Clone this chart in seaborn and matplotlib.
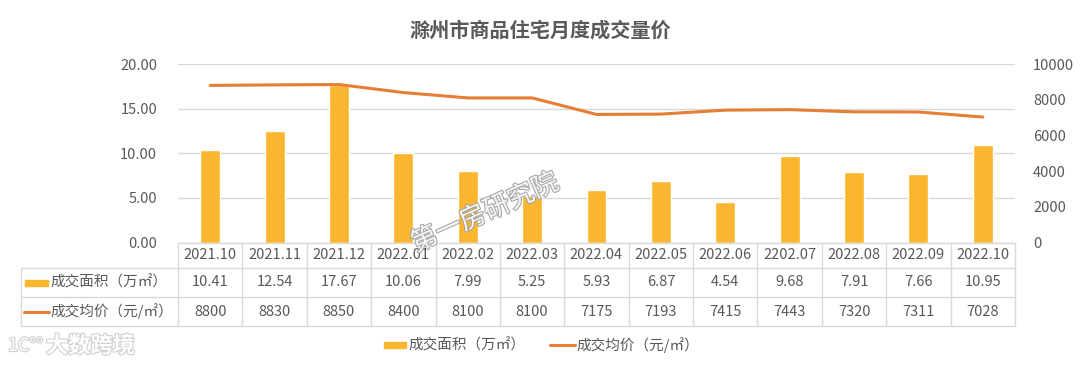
import numpy as np
import pandas as pd
import matplotlib
matplotlib.use("Agg")
import matplotlib.pyplot as plt
import matplotlib.patheffects as pe
from matplotlib.lines import Line2D
from matplotlib.patches import Rectangle
import seaborn as sns

# data
months = ["2021.10", "2021.11", "2021.12", "2022.01", "2022.02", "2022.03", "2022.04",
          "2022.05", "2022.06", "2202.07", "2022.08", "2022.09", "2022.10"]
area = [10.41, 12.54, 17.67, 10.06, 7.99, 5.25, 5.93, 6.87, 4.54, 9.68, 7.91, 7.66, 10.95]
price = [8800, 8830, 8850, 8400, 8100, 8100, 7175, 7193, 7415, 7443, 7320, 7311, 7028]
area_label = "成交面积（万㎡）"
price_label = "成交均价（元/㎡）"

df = pd.DataFrame({"month": months, "area": area, "price": price, "pos": np.arange(len(months))})

sns.set_style("white")
plt.rcParams["font.family"] = ["Noto Sans CJK SC", "DejaVu Sans"]

bar_c = "#FBB62F"
line_c = "#E67E35"
txt_c = "#595959"
grid_c = "#D9D9D9"

W, H = 1080, 366
fig = plt.figure(figsize=(W / 100, H / 100), dpi=100)
x0, x1, y0, y1 = 178, 1015, 242.5, 64
ax = fig.add_axes([x0 / W, 1 - y0 / H, (x1 - x0) / W, (y0 - y1) / H])

sns.barplot(data=df, x="month", y="area", color=bar_c, width=0.31, ax=ax, saturation=1)
ax.set_xlim(-0.5, len(months) - 0.5)
ax.set_ylim(0, 20)
ax.set_yticks([0, 5, 10, 15, 20])
ax.set_yticklabels([f"{v:.2f}" for v in [0, 5, 10, 15, 20]])
ax.yaxis.grid(True, color=grid_c, lw=1)
ax.set_axisbelow(True)
ax.set_xticks([])
ax.set_xlabel("")
ax.set_ylabel("")
ax.tick_params(axis="y", length=0, pad=15, labelsize=10.5, labelcolor=txt_c)
for s in ax.spines.values():
    s.set_visible(False)

ax2 = ax.twinx()
sns.lineplot(data=df, x="pos", y="price", color=line_c, lw=2.2, ax=ax2)
ax2.set_ylim(0, 10000)
ax2.set_yticks(range(0, 10001, 2000))
ax2.set_xlim(-0.5, len(months) - 0.5)
ax2.set_xlabel("")
ax2.set_ylabel("")
ax2.tick_params(axis="y", length=0, pad=13, labelsize=10.5, labelcolor=txt_c)
for s in ax2.spines.values():
    s.set_visible(False)

fig.text(0.5, 1 - 30 / H, "滁州市商品住宅月度成交量价", ha="center", va="center",
         fontsize=14.5, fontweight="bold", color=txt_c)

# data table below the plot
def fx(px):
    return px / W

def fy(py):
    return 1 - py / H

cw = (x1 - x0) / len(months)
rows = [242.5, 268, 297, 326]
tl = 20.5
lk = dict(color="#D9D9D9", lw=1, transform=fig.transFigure)
fig.add_artist(Line2D([fx(x0), fx(x1)], [fy(rows[0])] * 2, **lk))
for r in rows[1:]:
    fig.add_artist(Line2D([fx(tl), fx(x1)], [fy(r)] * 2, **lk))
for i in range(len(months) + 1):
    xx = x0 + i * cw
    fig.add_artist(Line2D([fx(xx)] * 2, [fy(rows[0]), fy(rows[3])], **lk))
fig.add_artist(Line2D([fx(tl)] * 2, [fy(rows[1]), fy(rows[3])], **lk))

for i, m in enumerate(months):
    cx = fx(x0 + (i + 0.5) * cw)
    fig.text(cx, fy((rows[0] + rows[1]) / 2), m, ha="center", va="center", fontsize=10.5, color=txt_c)
    fig.text(cx, fy((rows[1] + rows[2]) / 2), f"{area[i]:.2f}", ha="center", va="center", fontsize=10.5, color=txt_c)
    fig.text(cx, fy((rows[2] + rows[3]) / 2), f"{price[i]}", ha="center", va="center", fontsize=10.5, color=txt_c)

ym1 = (rows[1] + rows[2]) / 2
ym2 = (rows[2] + rows[3]) / 2
fig.add_artist(Rectangle((fx(25), fy(ym1 + 3)), fx(23), 6 / H, color=bar_c, transform=fig.transFigure))
fig.add_artist(Line2D([fx(24), fx(49)], [fy(ym2)] * 2, color=line_c, lw=2.2, transform=fig.transFigure))
fig.text(fx(50), fy(ym1), area_label, ha="left", va="center", fontsize=10.5, color=txt_c)
fig.text(fx(50), fy(ym2), price_label, ha="left", va="center", fontsize=10.5, color=txt_c)

# legend
yl = 345
fig.add_artist(Rectangle((fx(384), fy(yl + 3)), fx(22), 6 / H, color=bar_c, transform=fig.transFigure))
fig.text(fx(408), fy(yl), area_label, ha="left", va="center", fontsize=10.5, color=txt_c)
fig.add_artist(Line2D([fx(550), fx(575)], [fy(yl)] * 2, color=line_c, lw=2.2, transform=fig.transFigure))
fig.text(fx(576), fy(yl), price_label, ha="left", va="center", fontsize=10.5, color=txt_c)

# watermarks
fig.text(fx(485), fy(213), "第一房研究院", ha="center", va="center", fontsize=19, rotation=24,
         color="white", alpha=0.9,
         path_effects=[pe.withStroke(linewidth=1.6, foreground="#a0a0a0")])
fig.text(fx(8), fy(346), "1C°°", ha="left", va="center", fontsize=13,
         color="white", path_effects=[pe.withStroke(linewidth=1.6, foreground="#d0d0d0")])
fig.text(fx(46), fy(346), "大数跨境", ha="left", va="center", fontsize=16, fontweight="bold",
         color="white", path_effects=[pe.withStroke(linewidth=1.6, foreground="#d0d0d0")])

fig.savefig("out.png", dpi=100, facecolor="white")
